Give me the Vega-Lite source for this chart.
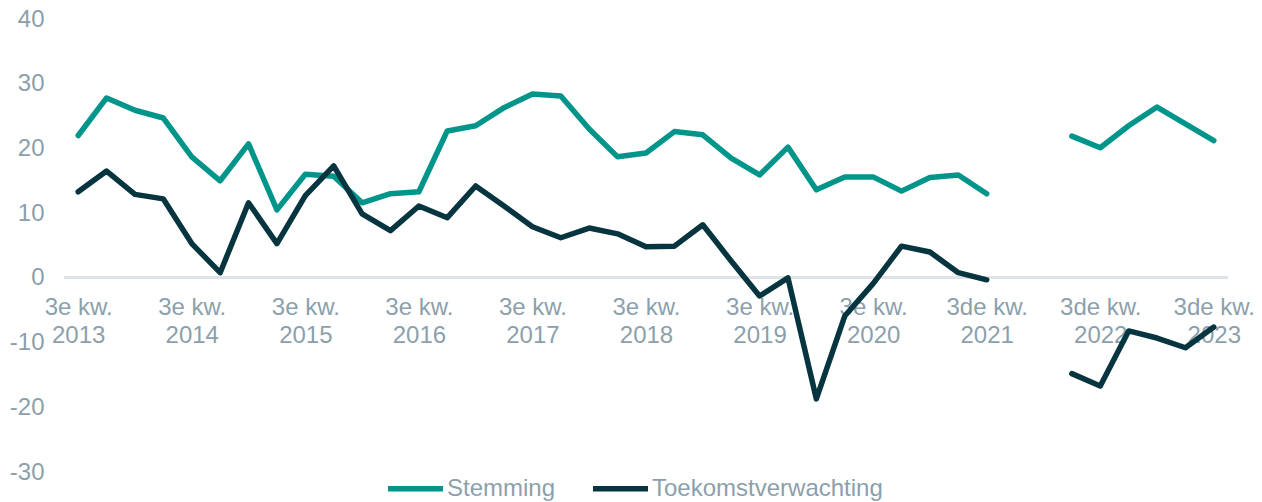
{
  "$schema": "https://vega.github.io/schema/vega-lite/v6.json",
  "width": 1164,
  "height": 453,
  "autosize": {"type": "none"},
  "padding": {"left": 64, "top": 19, "right": 34, "bottom": 30},
  "background": "white",
  "config": {
    "view": {"stroke": null},
    "font": "Liberation Sans"
  },
  "data": {
    "values": [
      {"kw": "2013-3", "Stemming": 22.0, "Toekomstverwachting": 13.3},
      {"kw": "2013-4", "Stemming": 27.8, "Toekomstverwachting": 16.5},
      {"kw": "2014-1", "Stemming": 25.9, "Toekomstverwachting": 12.9},
      {"kw": "2014-2", "Stemming": 24.7, "Toekomstverwachting": 12.2},
      {"kw": "2014-3", "Stemming": 18.7, "Toekomstverwachting": 5.3},
      {"kw": "2014-4", "Stemming": 15.0, "Toekomstverwachting": 0.8},
      {"kw": "2015-1", "Stemming": 20.7, "Toekomstverwachting": 11.6},
      {"kw": "2015-2", "Stemming": 10.5, "Toekomstverwachting": 5.3},
      {"kw": "2015-3", "Stemming": 16.0, "Toekomstverwachting": 12.7},
      {"kw": "2015-4", "Stemming": 15.7, "Toekomstverwachting": 17.3},
      {"kw": "2016-1", "Stemming": 11.6, "Toekomstverwachting": 9.9},
      {"kw": "2016-2", "Stemming": 13.0, "Toekomstverwachting": 7.3},
      {"kw": "2016-3", "Stemming": 13.3, "Toekomstverwachting": 11.1},
      {"kw": "2016-4", "Stemming": 22.7, "Toekomstverwachting": 9.3},
      {"kw": "2017-1", "Stemming": 23.5, "Toekomstverwachting": 14.2},
      {"kw": "2017-2", "Stemming": 26.3, "Toekomstverwachting": 11.1},
      {"kw": "2017-3", "Stemming": 28.4, "Toekomstverwachting": 7.9},
      {"kw": "2017-4", "Stemming": 28.1, "Toekomstverwachting": 6.2},
      {"kw": "2018-1", "Stemming": 23.0, "Toekomstverwachting": 7.7},
      {"kw": "2018-2", "Stemming": 18.7, "Toekomstverwachting": 6.8},
      {"kw": "2018-3", "Stemming": 19.3, "Toekomstverwachting": 4.8},
      {"kw": "2018-4", "Stemming": 22.6, "Toekomstverwachting": 4.9},
      {"kw": "2019-1", "Stemming": 22.1, "Toekomstverwachting": 8.2},
      {"kw": "2019-2", "Stemming": 18.5, "Toekomstverwachting": 2.6},
      {"kw": "2019-3", "Stemming": 15.9, "Toekomstverwachting": -2.8},
      {"kw": "2019-4", "Stemming": 20.2, "Toekomstverwachting": 0.0},
      {"kw": "2020-1", "Stemming": 13.6, "Toekomstverwachting": -18.7},
      {"kw": "2020-2", "Stemming": 15.6, "Toekomstverwachting": -5.9},
      {"kw": "2020-3", "Stemming": 15.6, "Toekomstverwachting": -0.9},
      {"kw": "2020-4", "Stemming": 13.4, "Toekomstverwachting": 4.9},
      {"kw": "2021-1", "Stemming": 15.5, "Toekomstverwachting": 4.0},
      {"kw": "2021-2", "Stemming": 15.9, "Toekomstverwachting": 0.8},
      {"kw": "2021-3", "Stemming": 13.0, "Toekomstverwachting": -0.3},
      {"kw": "2021-4", "Stemming": null, "Toekomstverwachting": null},
      {"kw": "2022-1", "Stemming": null, "Toekomstverwachting": null},
      {"kw": "2022-2", "Stemming": 21.9, "Toekomstverwachting": -14.8},
      {"kw": "2022-3", "Stemming": 20.1, "Toekomstverwachting": -16.7},
      {"kw": "2022-4", "Stemming": 23.5, "Toekomstverwachting": -8.2},
      {"kw": "2023-1", "Stemming": 26.4, "Toekomstverwachting": -9.3},
      {"kw": "2023-2", "Stemming": 23.8, "Toekomstverwachting": -10.8},
      {"kw": "2023-3", "Stemming": 21.2, "Toekomstverwachting": -7.6}
    ]
  },
  "layer": [
    {
      "mark": {"type": "rule", "stroke": "#dde3e8", "strokeWidth": 2},
      "encoding": {"y": {"datum": 0, "type": "quantitative"}}
    },
    {
      "transform": [{"fold": ["Stemming", "Toekomstverwachting"], "as": ["reeks", "waarde"]}],
      "mark": {"type": "line", "strokeWidth": 5.5, "strokeCap": "round", "strokeJoin": "round", "invalid": "break-paths-show-domains"},
      "encoding": {
        "x": {
          "field": "kw",
          "type": "ordinal",
          "sort": null,
          "scale": {"type": "point", "padding": 0.5},
          "axis": {
            "title": null,
            "orient": "bottom",
            "offset": -195,
            "domain": false,
            "ticks": false,
            "tickSize": 0,
            "grid": false,
            "labelAngle": 0,
            "labelPadding": 18,
            "labelFontSize": 24,
            "labelLineHeight": 28,
            "labelColor": "#8c9fac",
            "labelFont": "Liberation Sans",
            "labelOverlap": false,
            "labelExpr": "slice(datum.value,5)=='3' ? [(slice(datum.value,0,4) >= '2021' ? '3de kw.' : '3e kw.'), slice(datum.value,0,4)] : ''"
          }
        },
        "y": {
          "field": "waarde",
          "type": "quantitative",
          "scale": {"domain": [-30, 40], "nice": false, "zero": false},
          "axis": {
            "title": null,
            "values": [-30, -20, -10, 0, 10, 20, 30, 40],
            "domain": false,
            "ticks": false,
            "grid": false,
            "labelPadding": 20,
            "labelFontSize": 24,
            "labelColor": "#8c9fac",
            "labelFont": "Liberation Sans",
            "labelExpr": "toString(datum.value)"
          }
        },
        "color": {
          "field": "reeks",
          "type": "nominal",
          "scale": {"domain": ["Stemming", "Toekomstverwachting"], "range": ["#00958a", "#06343f"]},
          "legend": {
            "title": null,
            "orient": "none",
            "direction": "horizontal",
            "legendX": 321,
            "legendY": 439,
            "symbolType": "stroke",
            "symbolSize": 3025,
            "symbolStrokeWidth": 5.5,
            "labelFontSize": 24,
            "labelColor": "#8c9fac",
            "labelFont": "Liberation Sans",
            "labelLimit": 400,
            "labelOffset": 1,
            "columnPadding": 26
          }
        }
      }
    }
  ]
}
